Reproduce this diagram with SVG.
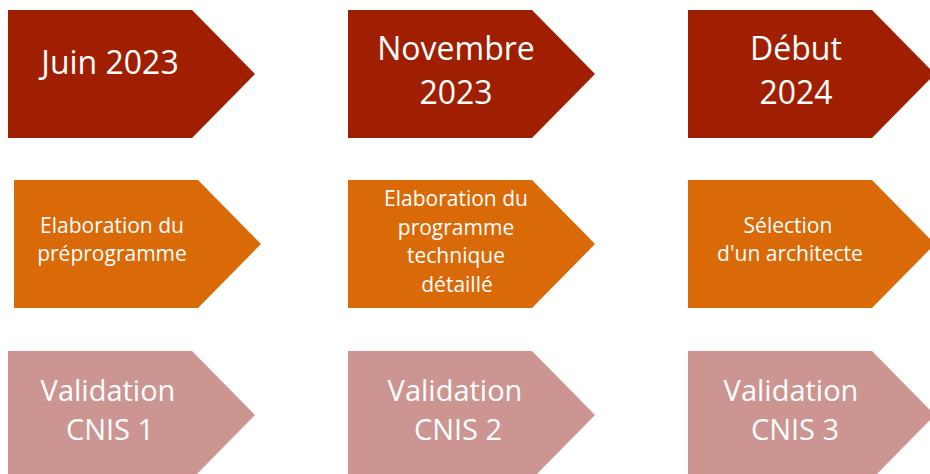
<svg xmlns="http://www.w3.org/2000/svg" width="930" height="474" viewBox="0 0 930 474">
<style>
.r1{fill:#A01F00}
.r2{fill:#DA6908}
.r3{fill:#CC9592}
text{font-family:"Open Sans","Noto Sans","DejaVu Sans",sans-serif;fill:#FFFFFF;text-anchor:middle}
.t1{font-size:32px}
.t2{font-size:21px}
.t3{font-size:29px}
</style>
<defs>
<polygon id="chev" points="0,0 184,0 247,64 184,128 0,128"/>
</defs>
<g id="connectors"/>
<g id="juin2023">
<use href="#chev" class="r1" x="8" y="10"/>
<text class="t1" x="110" y="73.5">Juin 2023</text>
</g>
<g id="novembre2023">
<use href="#chev" class="r1" x="348" y="10"/>
<text class="t1" x="456" y="59.5">Novembre</text>
<text class="t1" x="456" y="104">2023</text>
</g>
<g id="debut2024">
<use href="#chev" class="r1" x="688" y="10"/>
<text class="t1" x="796" y="59.5">Début</text>
<text class="t1" x="796" y="104">2024</text>
</g>
<g id="preprogramme">
<use href="#chev" class="r2" x="14" y="180"/>
<text class="t2" x="112" y="232.5">Elaboration du</text>
<text class="t2" x="112" y="261">préprogramme</text>
</g>
<g id="programme">
<use href="#chev" class="r2" x="348" y="180"/>
<text class="t2" x="456" y="206">Elaboration du</text>
<text class="t2" x="456" y="234.6">programme</text>
<text class="t2" x="456" y="263.2">technique</text>
<text class="t2" x="457" y="291.8">détaillé</text>
</g>
<g id="architecte">
<use href="#chev" class="r2" x="688" y="180"/>
<text class="t2" x="788" y="232.5">Sélection</text>
<text class="t2" x="790" y="261">d'un architecte</text>
</g>
<g id="cnis1">
<use href="#chev" class="r3" x="8" y="351"/>
<text class="t3" x="108" y="401">Validation</text>
<text class="t3" x="110" y="440">CNIS 1</text>
</g>
<g id="cnis2">
<use href="#chev" class="r3" x="348" y="351"/>
<text class="t3" x="455" y="401">Validation</text>
<text class="t3" x="458" y="440">CNIS 2</text>
</g>
<g id="cnis3">
<use href="#chev" class="r3" x="688" y="351"/>
<text class="t3" x="791" y="401">Validation</text>
<text class="t3" x="795" y="440">CNIS 3</text>
</g>
</svg>
